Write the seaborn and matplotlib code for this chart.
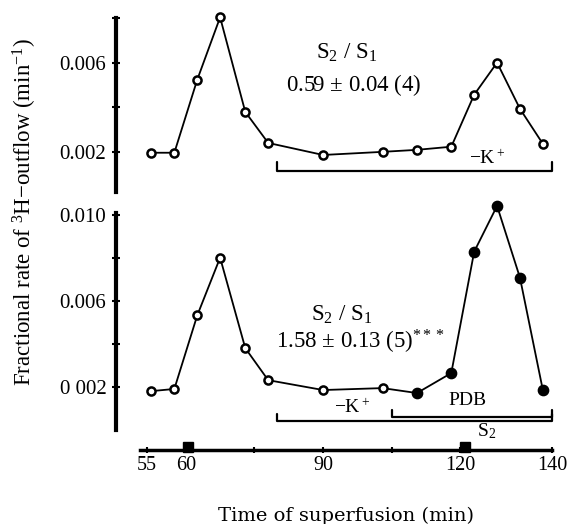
import numpy as np
import pandas as pd
import matplotlib
matplotlib.use('Agg')
import matplotlib.pyplot as plt
import seaborn as sns

# time of superfusion (min) for each fraction
time_top = [52.5, 57.5, 62.5, 67.5, 73, 78, 90, 103, 110.5, 118, 123, 128, 133, 138]
time_bot = [52.5, 57.5, 62.5, 67.5, 73, 78, 90, 103, 110.5, 118, 123, 128, 133, 138]

# fractional rate of 3H-outflow (min-1)
rate_top = [0.00196, 0.00196, 0.00523, 0.00803, 0.00379, 0.00240, 0.00186,
            0.00200, 0.00209, 0.00223, 0.00456, 0.00600, 0.00393, 0.00236]
rate_bot = [0.00181, 0.00191, 0.00533, 0.00802, 0.00381, 0.00232, 0.00186,
            0.00195, 0.00172, 0.00265, 0.00830, 0.01043, 0.00709, 0.00186]
# PDB present -> filled symbol
pdb_bot = [False] * 8 + [True] * 6

# -K+ and PDB periods, stimulation times
k_free_top = (80, 140)
k_free_bot = (80, 140)
pdb_period = (105, 140)
stim_times = [60.5, 121]

xtick_pos = [51.5, 60, 75, 90, 105, 120, 140]
xtick_lab = ['55', '60', '', '90', '', '120', '140']

top_text = ['S$_2$ / S$_1$', '0.59 $\\pm$ 0.04 (4)']
bot_text = ['S$_2$ / S$_1$', '1.58 $\\pm$ 0.13 (5)$^{***}$']

sns.set_theme(style='ticks')
plt.rcParams['font.family'] = ['Liberation Serif', 'DejaVu Serif']
plt.rcParams['mathtext.fontset'] = 'custom'
plt.rcParams['mathtext.rm'] = 'Liberation Serif'
plt.rcParams['mathtext.it'] = 'Liberation Serif:italic'
plt.rcParams['mathtext.bf'] = 'Liberation Serif:bold'
for k in ('axes.edgecolor', 'text.color', 'xtick.color', 'ytick.color',
          'axes.labelcolor'):
    plt.rcParams[k] = 'black'

W, H = 578, 524
fig = plt.figure(figsize=(W / 100, H / 100), dpi=100)

def fr(x0, y0, x1, y1):
    # pixel box -> figure fraction
    return [x0 / W, 1 - y1 / H, (x1 - x0) / W, (y1 - y0) / H]

ax1 = fig.add_axes(fr(140, 18, 552, 192))
ax2 = fig.add_axes(fr(140, 213, 552, 430))
axt = fig.add_axes(fr(140, 440, 552, 450))

lw = 1.3
for ax, t, r in [(ax1, time_top, rate_top), (ax2, time_bot, rate_bot)]:
    sns.lineplot(x=t, y=r, ax=ax, color='black', linewidth=lw, sort=False,
                 clip_on=False)

# open symbols
sns.scatterplot(x=time_top, y=rate_top, ax=ax1, s=34, color='white',
                edgecolor='black', linewidth=1.8, zorder=3, clip_on=False)
df = pd.DataFrame({'t': time_bot, 'r': rate_bot, 'pdb': pdb_bot})
sns.scatterplot(data=df[~df.pdb], x='t', y='r', ax=ax2, s=34, color='white',
                edgecolor='black', linewidth=1.8, zorder=3, clip_on=False)
sns.scatterplot(data=df[df.pdb], x='t', y='r', ax=ax2, s=55, color='black',
                edgecolor='black', linewidth=1, zorder=3, clip_on=False)

ax1.set_xlim(50, 140)
ax2.set_xlim(50, 140)
axt.set_xlim(50, 140)
ax1.set_ylim(0.0002, 0.008)
ax2.set_ylim(0.0, 0.0101)

off = 24 * 0.72
for ax in (ax1, ax2):
    for s in ('top', 'right', 'bottom'):
        ax.spines[s].set_visible(False)
    ax.spines['left'].set_position(('outward', off))
    ax.spines['left'].set_linewidth(3)
    ax.set_xticks([])
    ax.set_xlabel('')
    ax.set_ylabel('')
    ax.tick_params(axis='y', direction='inout', length=6, width=1.5,
                   labelsize=15, pad=4)

ax1.set_yticks([0.002, 0.004, 0.006, 0.008])
ax1.set_yticklabels(['0.002', '', '0.006', ''])
ax2.set_yticks([0.002, 0.004, 0.006, 0.008, 0.010])
ax2.set_yticklabels(['0 002', '', '0.006', '', '0.010'])

# time axis
axt.set_ylim(0, 1)
for s in ('top', 'right', 'left'):
    axt.spines[s].set_visible(False)
axt.spines['bottom'].set_linewidth(2.5)
axt.set_yticks([])
axt.set_xticks(xtick_pos)
axt.set_xticklabels(xtick_lab)
axt.tick_params(axis='x', direction='inout', length=5, width=1.5,
                labelsize=14.5, pad=2)
axt.plot(stim_times, [0.35] * len(stim_times), 's', color='black',
         markersize=7, clip_on=False)
axt.set_xlabel('Time of superfusion (min)', fontsize=14,
               fontfamily='DejaVu Serif', labelpad=23)

# brackets
def bracket(ax, span, y, h):
    ax.plot([span[0], span[0], span[1], span[1]], [y + h, y, y, y + h],
            color='black', linewidth=1.6, clip_on=False)

bracket(ax1, k_free_top, 0.00114, 0.0004)
bracket(ax2, k_free_bot, 0.00042, 0.00033)
bracket(ax2, pdb_period, 0.00060, 0.00035)

# annotations
ax1.text(0.502, 0.80, top_text[0], transform=ax1.transAxes, ha='center',
         va='center', fontsize=16.5)
ax1.text(0.519, 0.615, top_text[1], transform=ax1.transAxes, ha='center',
         va='center', fontsize=16.5)
ax1.text(0.842, 0.19, '$-$K$^+$', transform=ax1.transAxes, ha='center',
         va='center', fontsize=14)
ax2.text(0.49, 0.53, bot_text[0], transform=ax2.transAxes, ha='center',
         va='center', fontsize=16.5)
ax2.text(0.534, 0.405, bot_text[1], transform=ax2.transAxes, ha='center',
         va='center', fontsize=16.5)
ax2.text(0.515, 0.101, '$-$K$^+$', transform=ax2.transAxes, ha='center',
         va='center', fontsize=14)
ax2.text(0.794, 0.138, 'PDB', transform=ax2.transAxes, ha='center',
         va='center', fontsize=14)
ax2.text(0.842, -0.005, 'S$_2$', transform=ax2.transAxes, ha='center',
         va='center', fontsize=14)

fig.text(25 / W, 1 - 212 / H, 'Fractional rate of $^3$H$-$outflow (min$^{-1}$)',
         rotation=90, ha='center', va='center', fontsize=16.5)

fig.savefig('out.png', dpi=100)
